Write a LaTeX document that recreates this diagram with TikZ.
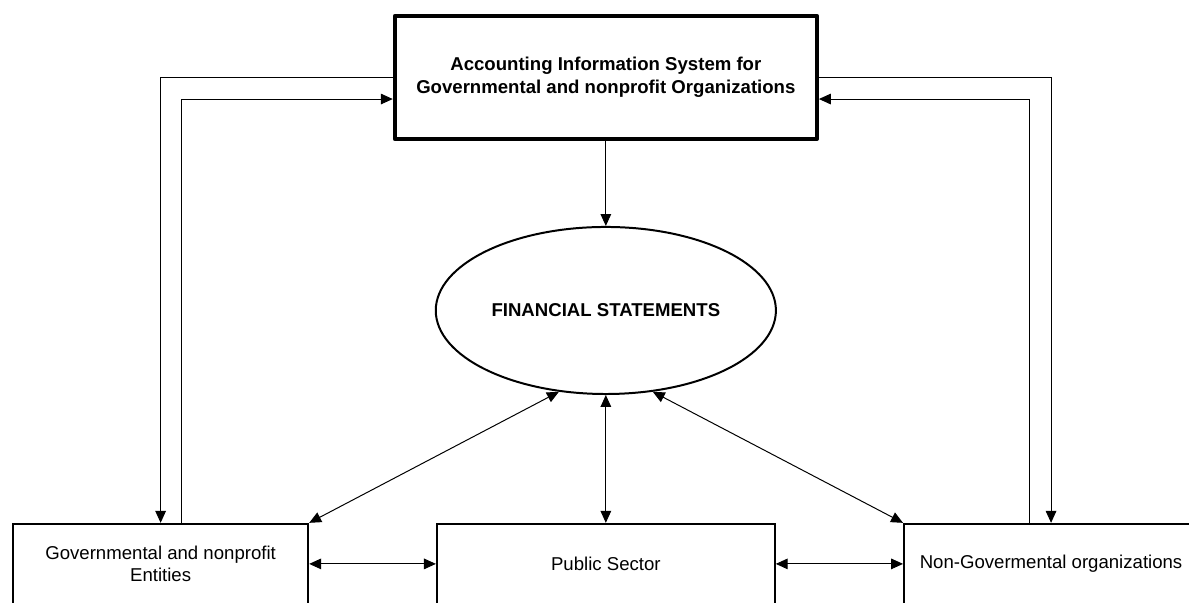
\documentclass[tikz,border=0pt]{standalone}
\usepackage{fontspec}
\setmainfont{Liberation Sans}
\usetikzlibrary{positioning, arrows.meta, shapes.geometric, calc}

\begin{document}
\begin{tikzpicture}[
    topblock/.style={rectangle, draw=black, line width=3pt, line join=round, minimum width=11.17cm,
                     minimum height=3.26cm, font=\fontsize{14}{17}\selectfont\bfseries, align=center},
    block/.style={rectangle, draw=black, line width=1.5pt, minimum height=2.12cm,
                  font=\fontsize{14}{17}\selectfont, align=center},
    oval/.style={ellipse, draw=black, line width=1.5pt, minimum width=9cm, minimum height=4.42cm,
                 inner sep=0pt, font=\fontsize{14}{17}\selectfont\bfseries},
    arrow/.style={-{Triangle[length=9pt, width=8pt]}, line width=0.75pt},
    twoway/.style={{Triangle[length=9pt, width=8pt]}-{Triangle[length=9pt, width=8pt]}, line width=0.75pt}
]

    \useasboundingbox (0, 0) rectangle (31.46, -15.95);

    % Information system
    \node[topblock] (ais) at (16.03, -2.05) {Accounting Information System for\\Governmental and nonprofit Organizations};

    % Statements
    \node[oval] (fs) at (16.03, -8.215) {FINANCIAL STATEMENTS};

    % Users
    \node[block, minimum width=7.81cm] (gov) at (4.25, -14.92) {Governmental and nonprofit\\Entities};
    \node[block, minimum width=8.94cm] (pub) at (16.03, -14.92) {Public Sector};
    \node[block, minimum width=7.78cm] (ngo) at (27.81, -14.92) {Non-Govermental organizations};

    % Loops to the system
    \draw[arrow] (ais.west) -| (gov.north);
    \draw[arrow] ($(gov.north)+(0.56, 0)$) |- ($(ais.west)+(0, -0.57)$);
    \draw[arrow] (ais.east) -| (ngo.north);
    \draw[arrow] ($(ngo.north)+(-0.56, 0)$) |- ($(ais.east)+(0, -0.57)$);

    % Arrows to the statements
    \draw[arrow] (ais) -- (fs);
    \draw[twoway] (gov.north east) -- (fs.240);
    \draw[twoway] (pub) -- (fs);
    \draw[twoway] (ngo.north west) -- (fs.300);

    % Arrows between users
    \draw[twoway] (gov) -- (pub);
    \draw[twoway] (pub) -- (ngo);

\end{tikzpicture}
\end{document}
